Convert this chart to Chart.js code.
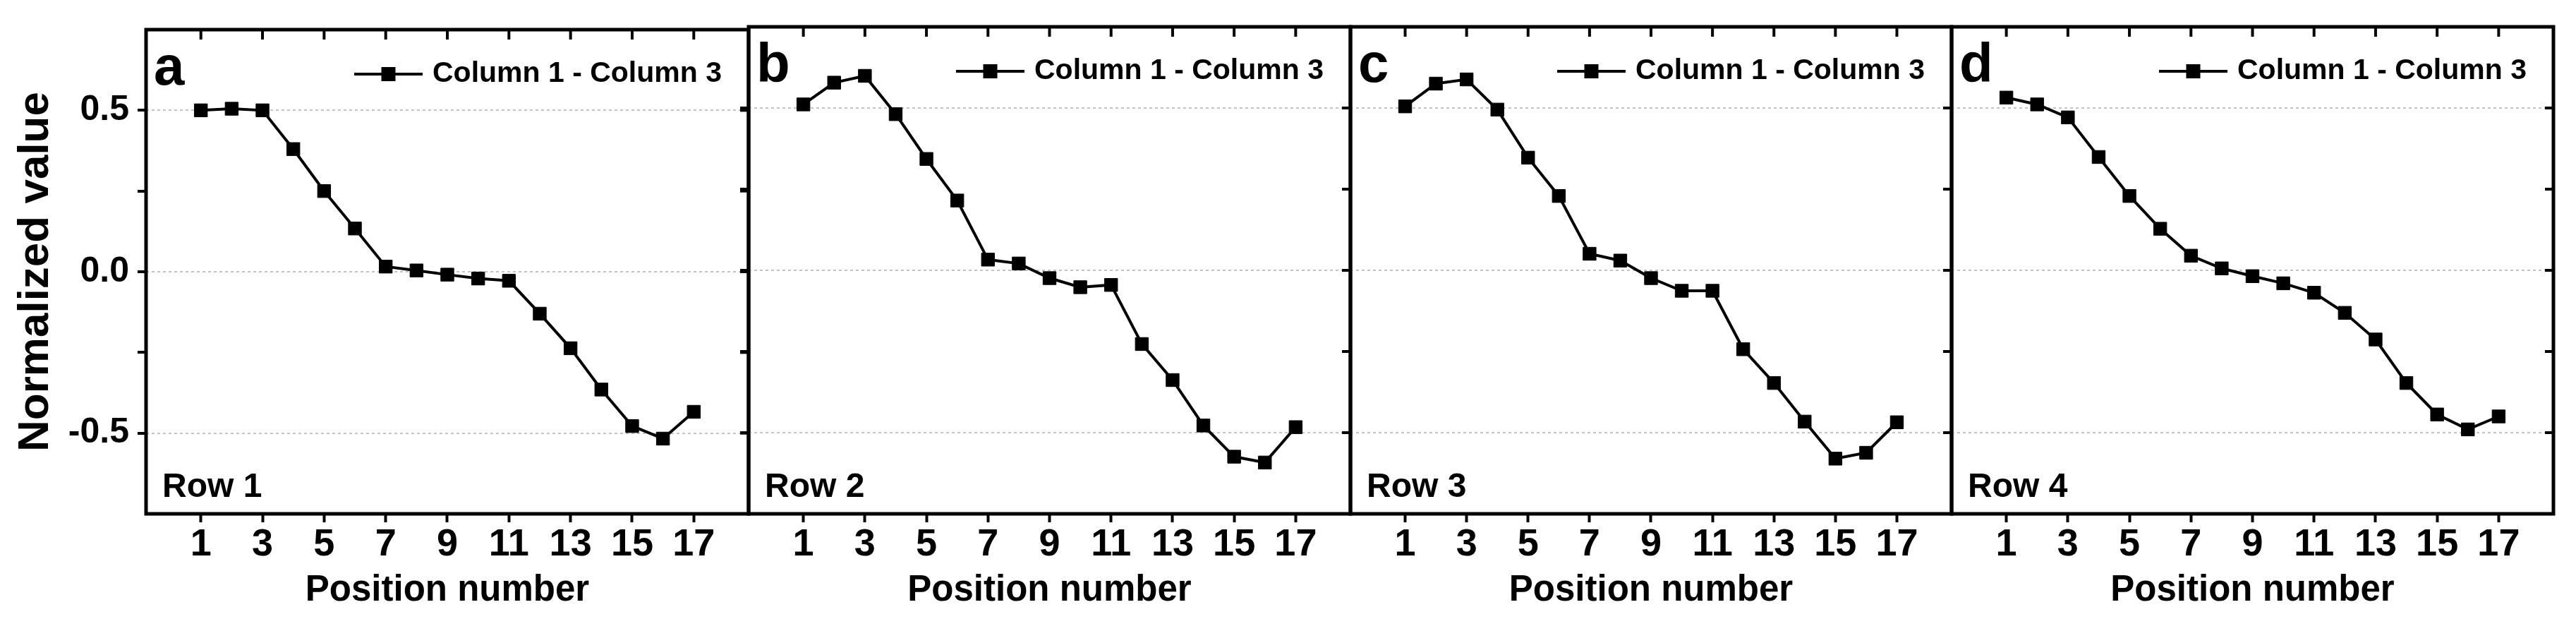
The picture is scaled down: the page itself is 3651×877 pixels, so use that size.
<!DOCTYPE html>
<html>
<head>
<meta charset="utf-8">
<title>Normalized value by position</title>
<script src="https://cdn.jsdelivr.net/npm/chart.js@4.4.1/dist/chart.umd.min.js"></script>
<style>
    html, body { margin: 0; padding: 0; background: #fff; }
    #wrap { position: relative; width: 3651px; height: 877px; overflow: hidden; background: #fff; }
    #wrap canvas { position: absolute; top: 0; }
</style>
</head>
<body>
<div id="wrap"></div>
<script>
const positions = [1, 2, 3, 4, 5, 6, 7, 8, 9, 10, 11, 12, 13, 14, 15, 16, 17];
const row1 = [0.500, 0.505, 0.500, 0.380, 0.250, 0.134, 0.016, 0.004, -0.009, -0.021, -0.028, -0.130, -0.237, -0.365, -0.478, -0.517, -0.434];
const row2 = [0.511, 0.578, 0.599, 0.481, 0.343, 0.215, 0.033, 0.021, -0.024, -0.052, -0.045, -0.227, -0.338, -0.478, -0.574, -0.592, -0.483];
const row3 = [0.505, 0.575, 0.588, 0.495, 0.347, 0.229, 0.051, 0.030, -0.024, -0.063, -0.063, -0.243, -0.347, -0.466, -0.580, -0.562, -0.468];
const row4 = [0.532, 0.511, 0.471, 0.349, 0.229, 0.128, 0.045, 0.006, -0.018, -0.040, -0.069, -0.131, -0.213, -0.347, -0.444, -0.490, -0.450];
const xTicks = [1, 3, 5, 7, 9, 11, 13, 15, 17];
const yTicks = [-0.5, 0, 0.5];
const panelLetters = ['a', 'b', 'c', 'd'];
const rowLabels = ['Row 1', 'Row 2', 'Row 3', 'Row 4'];
const seriesLabel = 'Column 1 - Column 3';

const FONT = "'Liberation Sans', Arial, Helvetica, sans-serif";
const H = 877;
const edges = [207, 1061, 1914, 2766, 3619];   // panel frame borders
const M = 20;                                   // spare room around each frame
const PLOT_TOP = 38, PLOT_BOTTOM = 728;

// frame, inward ticks, panel letter, row label and legend
const panelDecor = {
    id: 'panelDecor',
    afterDraw(chart, args, opts) {
        const { ctx, chartArea: a, scales: { x, y } } = chart;
        ctx.save();
        ctx.strokeStyle = '#000';
        ctx.fillStyle = '#000';
        ctx.lineWidth = 4;
        x.ticks.forEach(t => {
            const px = x.getPixelForValue(t.value);
            ctx.beginPath();
            ctx.moveTo(px, a.top);
            ctx.lineTo(px, a.top + 14);
            ctx.stroke();
        });
        y.ticks.forEach(t => {
            if (t.value <= y.min || t.value >= y.max) return;
            const py = y.getPixelForValue(t.value);
            ctx.beginPath();
            ctx.moveTo(a.right, py);
            ctx.lineTo(a.right - 12, py);
            ctx.stroke();
        });
        ctx.lineWidth = 5;
        ctx.strokeRect(a.left, a.top, a.right - a.left, a.bottom - a.top);

        ctx.textAlign = 'left';
        ctx.textBaseline = 'alphabetic';
        ctx.font = `bold 78px ${FONT}`;
        ctx.fillText(opts.letter, a.left + 11, a.top + 78);
        ctx.font = `bold 48px ${FONT}`;
        ctx.fillText(opts.row, a.left + 23, a.bottom - 24);

        const ds = chart.data.datasets[0];
        ctx.font = `bold 41px ${FONT}`;
        ctx.textAlign = 'right';
        ctx.textBaseline = 'middle';
        const tx = a.right - 38, ty = a.top + 63;
        ctx.fillText(ds.label, tx, ty);
        const tw = ctx.measureText(ds.label).width;
        const x1 = tx - tw - 14, x0 = x1 - 97;
        ctx.strokeStyle = ds.borderColor;
        ctx.lineWidth = ds.borderWidth;
        ctx.beginPath();
        ctx.moveTo(x0, ty);
        ctx.lineTo(x1, ty);
        ctx.stroke();
        ctx.fillStyle = ds.pointBackgroundColor;
        ctx.fillRect((x0 + x1) / 2 - 10, ty - 10, 20, 20);
        ctx.restore();
    }
};

function makePanel(i, values) {
    const left = i === 0 ? 0 : edges[i] - M;
    const leftRoom = edges[i] - left;
    const width = edges[i + 1] - left + M;

    const canvas = document.createElement('canvas');
    canvas.width = width;
    canvas.height = H;
    canvas.style.left = left + 'px';
    canvas.style.width = width + 'px';
    canvas.style.height = H + 'px';
    document.getElementById('wrap').appendChild(canvas);

    new Chart(canvas.getContext('2d'), {
        type: 'line',
        data: {
            datasets: [{
                label: seriesLabel,
                data: positions.map((p, k) => ({ x: p, y: values[k] })),
                borderColor: '#000',
                borderWidth: 4,
                tension: 0,
                pointStyle: 'rect',
                pointRadius: 13,
                pointBackgroundColor: '#000',
                pointBorderColor: '#000',
                pointBorderWidth: 1,
                fill: false
            }]
        },
        options: {
            responsive: false,
            animation: false,
            devicePixelRatio: 1,
            layout: { padding: { top: PLOT_TOP, right: M, bottom: 0, left: 0 } },
            plugins: {
                legend: { display: false },
                tooltip: { enabled: false },
                panelDecor: { letter: panelLetters[i], row: rowLabels[i] }
            },
            scales: {
                x: {
                    type: 'linear',
                    min: -0.78,
                    max: 18.78,
                    afterBuildTicks: scale => { scale.ticks = xTicks.map(v => ({ value: v })); },
                    afterFit: scale => { scale.height = H - PLOT_BOTTOM; },
                    grid: {
                        drawOnChartArea: false,
                        drawTicks: true,
                        tickLength: 12,
                        tickWidth: 4,
                        tickColor: '#000'
                    },
                    border: { display: false },
                    ticks: {
                        autoSkip: false,
                        maxRotation: 0,
                        padding: 0,
                        color: '#000',
                        font: { family: FONT, size: 54, weight: 'bold' },
                        callback: v => String(v)
                    },
                    title: {
                        display: true,
                        text: 'Position number',
                        color: '#000',
                        font: { family: FONT, size: 51, weight: 'bold' },
                        padding: { top: 0, bottom: 9 }
                    }
                },
                y: {
                    min: -0.75,
                    max: 0.75,
                    afterFit: scale => { scale.width = leftRoom; },
                    grid: {
                        drawTicks: true,
                        tickLength: 12,
                        tickWidth: 4,
                        tickColor: ctx => (ctx.tick && Math.abs(ctx.tick.value) > 0.74) ? 'transparent' : '#000',
                        lineWidth: 2,
                        color: ctx => (ctx.tick && yTicks.some(v => Math.abs(v - ctx.tick.value) < 1e-6)) ? 'rgba(200,185,190,0.9)' : 'transparent'
                    },
                    border: { display: false, dash: [4, 4] },
                    ticks: {
                        stepSize: 0.25,
                        display: i === 0,
                        padding: 12,
                        color: '#000',
                        font: { family: FONT, size: 50, weight: 'bold' },
                        callback: v => yTicks.some(t => Math.abs(t - v) < 1e-6) ? v.toFixed(1) : ''
                    },
                    title: {
                        display: i === 0,
                        text: 'Normalized value',
                        color: '#000',
                        font: { family: FONT, size: 62, weight: 'bold' },
                        padding: { top: 14, bottom: 0 }
                    }
                }
            }
        },
        plugins: [panelDecor]
    });
}

document.addEventListener('DOMContentLoaded', () => {
    [row1, row2, row3, row4].forEach((values, i) => makePanel(i, values));
});
</script>
</body>
</html>
